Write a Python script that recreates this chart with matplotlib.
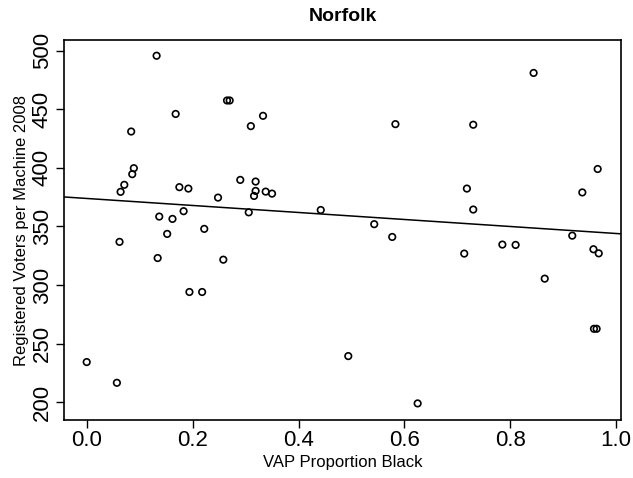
import numpy as np
import matplotlib as mpl
mpl.use('Agg')
import matplotlib.pyplot as plt

plt.rcParams['font.family'] = ['Liberation Sans', 'DejaVu Sans']

# VAP proportion black
vap_black = [0.132, 0.265, 0.270, 0.168, 0.333, 0.310, 0.084, 0.089, 0.086,
             0.071, 0.064, 0.175, 0.192, 0.290, 0.319, 0.319, 0.316, 0.338,
             0.350, 0.248, 0.306, 0.442, 0.137, 0.162, 0.183, 0.222, 0.152,
             0.062, 0.134, 0.258, 0.194, 0.218, 0.000, 0.057, 0.494,
             0.844, 0.583, 0.730, 0.965, 0.718, 0.936, 0.730, 0.543,
             0.577, 0.785, 0.810, 0.713, 0.917, 0.957, 0.967, 0.865,
             0.958, 0.963, 0.625]
# registered voters per machine 2008
voters = [495.7, 457.5, 457.5, 446.0, 444.4, 435.6, 431.0, 399.7, 394.6,
          385.5, 379.5, 383.5, 382.3, 389.7, 388.3, 380.3, 376.0, 379.7,
          378.0, 374.6, 362.0, 364.0, 358.4, 356.4, 363.0, 347.9, 343.6,
          336.8, 323.0, 321.6, 294.0, 294.0, 234.2, 216.5, 239.3,
          481.0, 437.3, 436.8, 399.0, 382.3, 379.0, 364.4, 351.9,
          341.0, 334.5, 334.2, 326.8, 342.1, 330.5, 327.0, 305.4,
          262.6, 262.6, 198.9]

x = np.array(vap_black)
y = np.array(voters)
slope, intercept = np.polyfit(x, y, 1)

fig = plt.figure(figsize=(6.33, 4.78), dpi=100)
ax = fig.add_axes([0.101, 0.121, 0.880, 0.795])

ax.scatter(x, y, s=22, facecolors='none', edgecolors='black', linewidths=1.2, zorder=3)
xl = np.array([-0.05, 1.05])
ax.plot(xl, intercept + slope * xl, color='black', linewidth=1.1)

ax.set_xlim(-0.043, 1.009)
ax.set_ylim(184.6, 509)
ax.set_xticks([0.0, 0.2, 0.4, 0.6, 0.8, 1.0])
ax.set_xticklabels(['0.0', '0.2', '0.4', '0.6', '0.8', '1.0'])
ax.set_yticks([200, 250, 300, 350, 400, 450, 500])
ax.tick_params(direction='out', length=6, width=1, labelsize=16)
ax.tick_params(axis='x', pad=1)
ax.tick_params(axis='y', pad=2)
for lab in ax.get_yticklabels():
    lab.set_rotation(90)
    lab.set_va('center')

for s in ax.spines.values():
    s.set_linewidth(1.2)

ax.set_xlabel('VAP Proportion Black', fontsize=12, labelpad=3)
ax.set_ylabel('Registered Voters per Machine 2008', fontsize=12, labelpad=2)
ax.set_title('Norfolk', fontsize=14, fontweight='bold', pad=14)

fig.savefig('out.png', dpi=100)
